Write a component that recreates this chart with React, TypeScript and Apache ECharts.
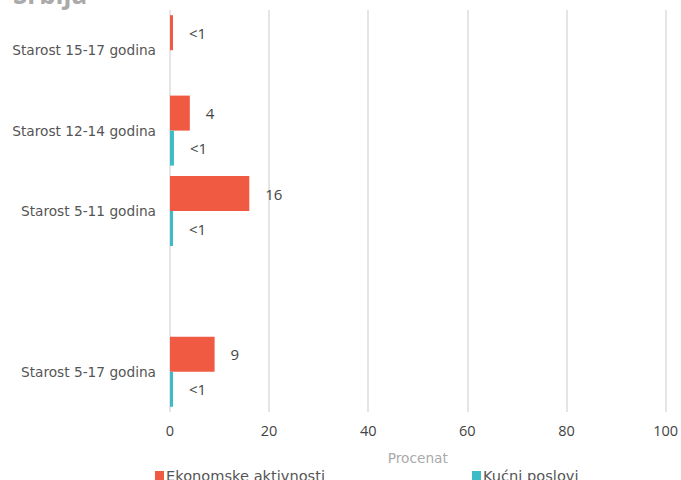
import React, { useEffect, useRef } from "react";
import * as echarts from "echarts";

const categories = [
  "Starost 15-17 godina",
  "Starost 12-14 godina",
  "Starost 5-11 godina",
  "",
  "Starost 5-17 godina",
];
const ekonomske = [0.6, 4, 16, null, 9];
const kucni = [null, 0.8, 0.6, null, 0.6];
const xTicks = [0, 20, 40, 60, 80, 100];

const FONT = "'Open Sans', 'Noto Sans', sans-serif";
const WIDE = "'DejaVu Sans', 'Open Sans', sans-serif";

export default function App() {
  const ref = useRef<HTMLDivElement>(null);
  useEffect(() => {
    if (!ref.current) return;
    const chart = echarts.init(ref.current, undefined, { renderer: "svg" });
    const labelFmt = (p: any) => (p.value == null ? "" : p.value < 1 ? "<1" : String(p.value));
    chart.setOption({
      animation: false,
      textStyle: { fontFamily: FONT },
      title: {
        text: "Srbija",
        left: 8,
        top: -24,
        textStyle: { fontSize: 26, fontWeight: "bold", color: "#aaaaaa", fontFamily: FONT },
      },
      grid: { left: 170, right: 14, top: 10, bottom: 68, containLabel: false },
      xAxis: {
        type: "value",
        min: xTicks[0],
        max: xTicks[xTicks.length - 1],
        interval: 20,
        name: "Procenat",
        nameLocation: "middle",
        nameGap: 39,
        nameTextStyle: { color: "#aaaaaa", fontSize: 13.7, fontFamily: WIDE },
        axisLine: { show: false },
        axisTick: { show: false },
        axisLabel: { color: "#444", fontSize: 14.5, margin: 11, fontFamily: FONT },
        splitLine: { show: true, lineStyle: { color: "#dddddd", width: 1.5 } },
      },
      yAxis: {
        type: "category",
        data: categories,
        inverse: true,
        axisLine: { show: false },
        axisTick: { show: false },
        axisLabel: { color: "#555", fontSize: 13.7, margin: 14, fontFamily: WIDE },
        splitLine: { show: false },
      },
      legend: [
        {
          data: ["Ekonomske aktivnosti"],
          left: 150,
          top: 463,
          itemWidth: 9,
          itemHeight: 9,
          icon: "rect",
          textStyle: { color: "#555", fontSize: 14.6, fontFamily: WIDE, padding: [0, 0, 0, -3] },
        },
        {
          data: ["Kućni poslovi"],
          left: 467,
          top: 463,
          itemWidth: 9,
          itemHeight: 9,
          icon: "rect",
          textStyle: { color: "#555", fontSize: 14.6, fontFamily: WIDE, padding: [0, 0, 0, -3] },
        },
      ],
      series: [
        {
          name: "Ekonomske aktivnosti",
          type: "bar",
          data: ekonomske,
          barWidth: 35,
          barGap: "0%",
          itemStyle: { color: "#F05A42" },
          label: {
            show: true,
            position: "right",
            distance: 16,
            color: "#444",
            fontSize: 15,
            fontFamily: FONT,
            formatter: labelFmt,
          },
        },
        {
          name: "Kućni poslovi",
          type: "bar",
          data: kucni,
          barWidth: 35,
          barGap: "0%",
          itemStyle: { color: "#3DBCC7" },
          label: {
            show: true,
            position: "right",
            distance: 16,
            color: "#444",
            fontSize: 15,
            fontFamily: FONT,
            formatter: labelFmt,
          },
        },
      ],
    });
    return () => chart.dispose();
  }, []);
  return <div ref={ref} style={{ width: 681, height: 480, position: "absolute", left: 0, top: 0 }} />;
}
